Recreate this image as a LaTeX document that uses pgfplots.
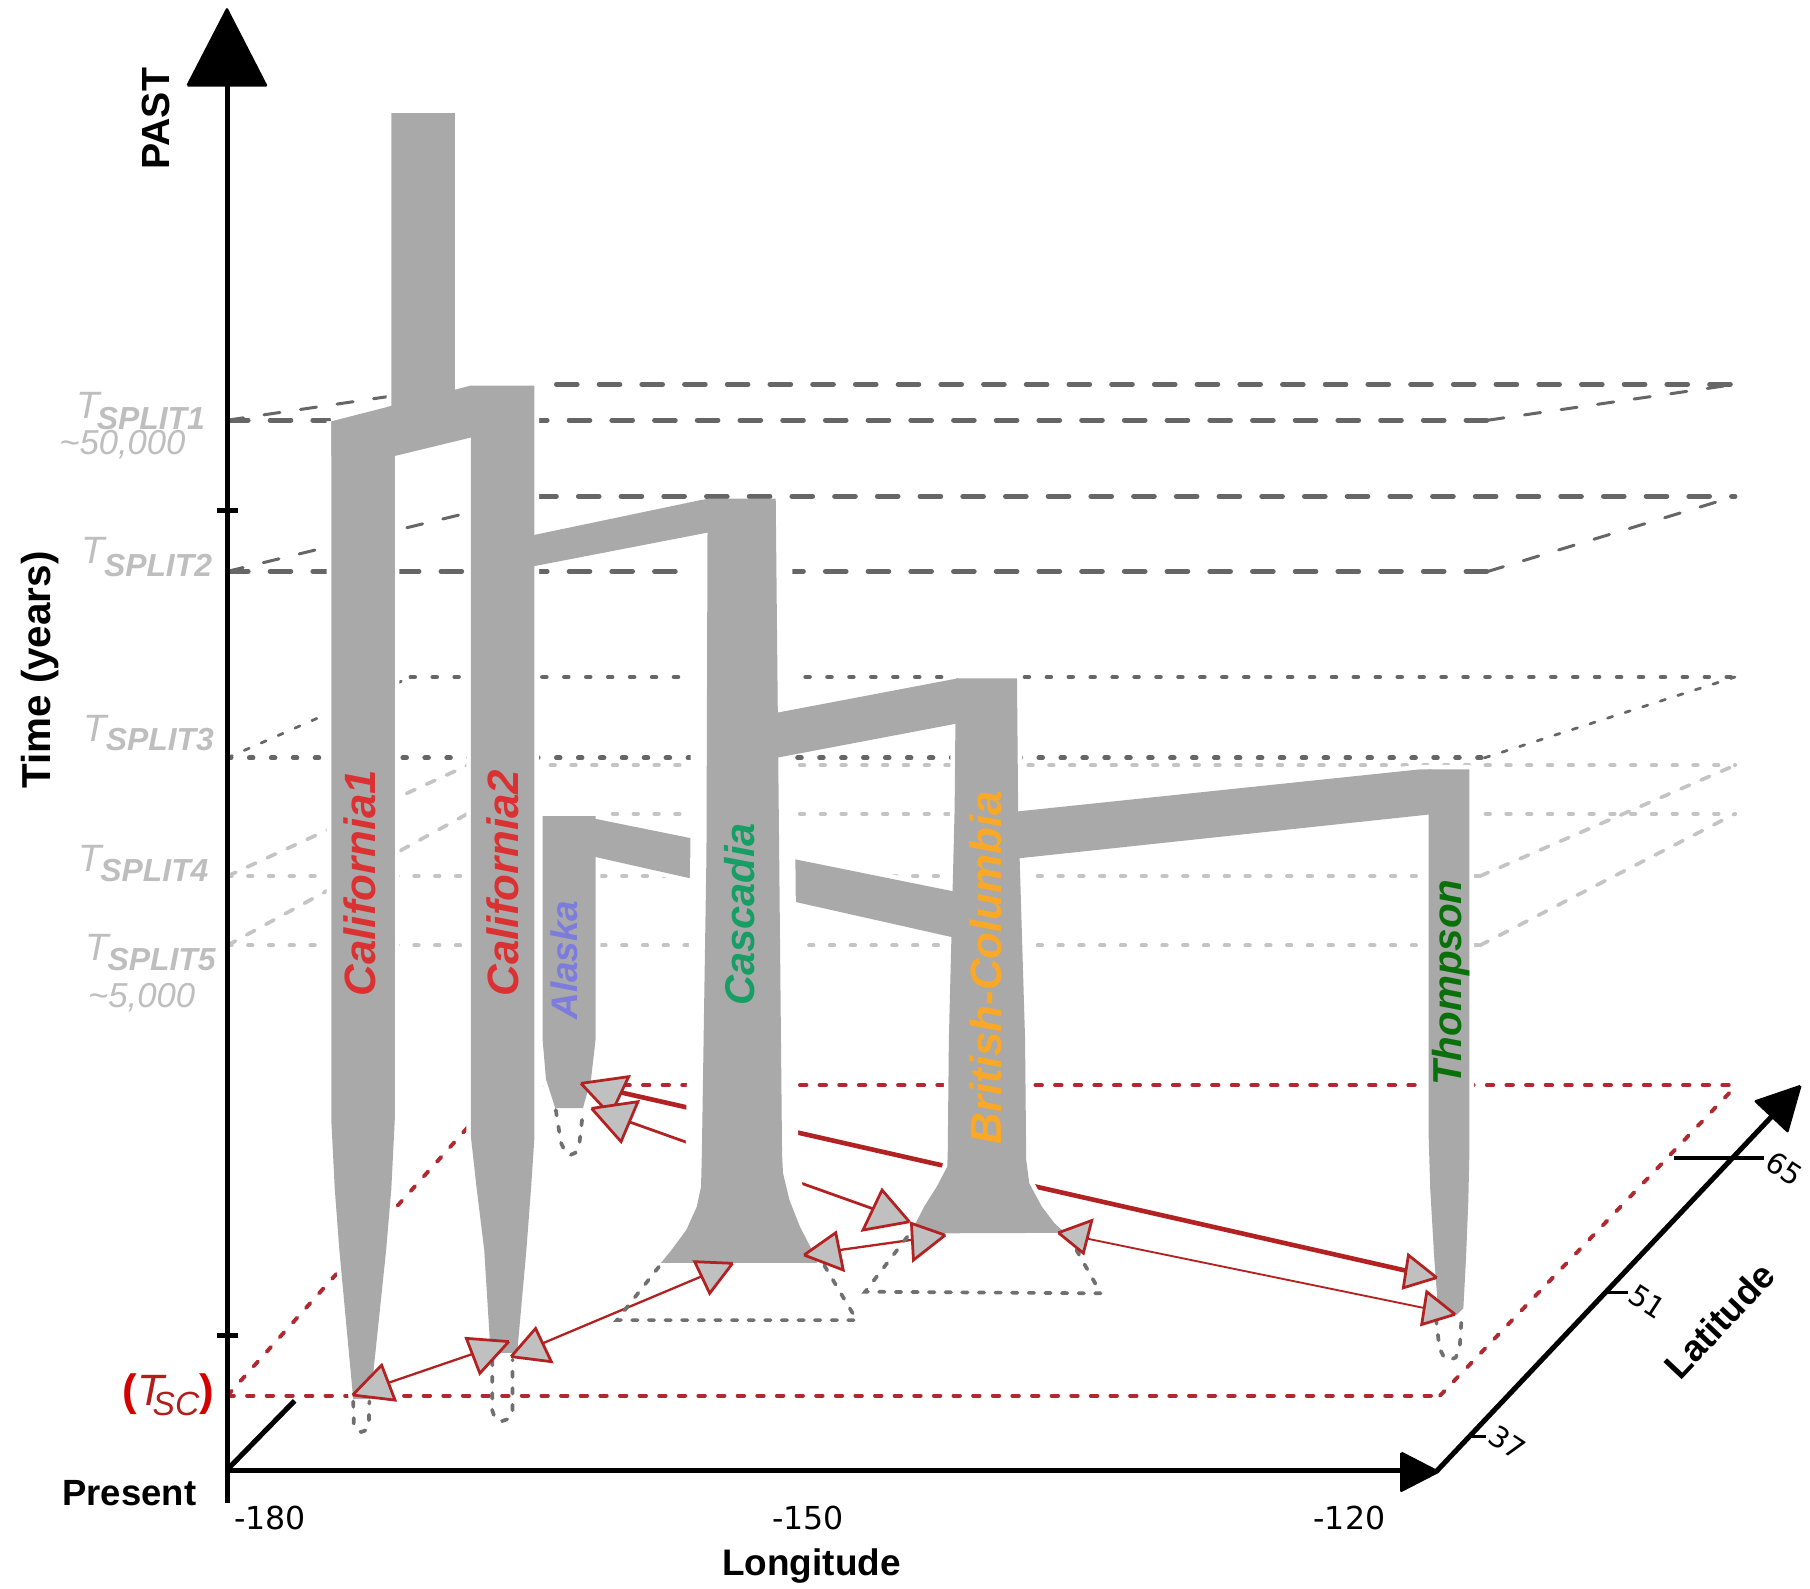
\documentclass[border=0pt]{standalone}
\usepackage{pgfplots}
\pgfplotsset{compat=1.18}
\usepackage{fontspec}
\setmainfont{Liberation Sans}
\newfontfamily\dejavu{DejaVu Sans}

\definecolor{branch}{RGB}{169,169,169}
\definecolor{darkdash}{RGB}{102,102,102}
\definecolor{lightdot}{RGB}{196,196,196}
\definecolor{tsplit}{RGB}{190,190,190}
\definecolor{scred}{RGB}{176,40,48}
\definecolor{migred}{RGB}{178,34,34}
\definecolor{arrfill}{RGB}{192,192,192}
\definecolor{projgray}{RGB}{112,112,112}
\definecolor{calred}{RGB}{218,50,50}
\definecolor{alaskac}{RGB}{124,124,222}
\definecolor{cascadiac}{RGB}{22,158,100}
\definecolor{bcorange}{RGB}{250,168,40}
\definecolor{thompsonc}{RGB}{10,112,10}
\definecolor{parred}{RGB}{212,0,0}
\definecolor{tscdark}{RGB}{178,30,30}

\newcommand{\fs}[1]{\fontsize{#1}{#1}\selectfont}

\tikzset{
  plane dash/.style={draw=darkdash, line width=2.1pt, line cap=round, dash pattern=on 9pt off 9.5pt},
  plane dash diag/.style={draw=darkdash, line width=1.3pt, line cap=round, dash pattern=on 7pt off 9pt},
  plane dot/.style={draw=darkdash, line width=2.1pt, line cap=round, dash pattern=on 1.6pt off 7.9pt},
  plane dot diag/.style={draw=darkdash, line width=1.2pt, line cap=round, dash pattern=on 2.3pt off 5.7pt},
  light dot/.style={draw=lightdot, line width=1.8pt, line cap=round, dash pattern=on 1.8pt off 7.2pt},
  light dot diag/.style={draw=lightdot, line width=1.6pt, line cap=round, dash pattern=on 4pt off 5.5pt},
  sc dot/.style={draw=scred, line width=1.7pt, line cap=round, dash pattern=on 2.8pt off 5.7pt},
  proj/.style={draw=projgray, line width=1.6pt, line cap=round, dash pattern=on 2.4pt off 4.8pt},
  halo/.style={draw=white, fill=white, line width=4pt, line join=round},
  bighalo/.style={draw=white, fill=white, line width=14pt, line join=round},
  body/.style={fill=branch, draw=none},
  tri/.style={fill=arrfill, draw=migred, line width=1.2pt, line join=miter},
  axisline/.style={draw=black, line width=2.3pt},
}

\begin{document}
\begin{tikzpicture}
\begin{axis}[
  width=784pt, height=688pt, scale only axis,
  xmin=0, xmax=1568, ymin=0, ymax=1376, y dir=reverse,
  hide axis, clip=false,
]
% frame of the drawing area
\addplot[draw=none] coordinates {(0,0) (1568,1376)};

% ---------- time planes ----------
% T_SPLIT1
\addplot[plane dash] coordinates {(197,364) (1289,364)};
\addplot[plane dash] coordinates {(408,333) (1503,333)};
\addplot[plane dash diag] coordinates {(197,364) (408,333)};
\addplot[plane dash diag] coordinates {(1289,364) (1503,333)};
% T_SPLIT2
\addplot[plane dash] coordinates {(197,495) (1289,495)};
\addplot[plane dash] coordinates {(464,430) (1503,430)};
\addplot[plane dash diag] coordinates {(197,495) (464,430)};
\addplot[plane dash diag] coordinates {(1289,495) (1503,430)};
% T_SPLIT3
\addplot[plane dot] coordinates {(197,656.5) (1286,656.5)};
\addplot[plane dot] coordinates {(356,586.5) (1503,586.5)};
\addplot[plane dot diag] coordinates {(197,656.5) (356,586.5)};
\addplot[plane dot diag] coordinates {(1286,656.5) (1503,586.5)};
% T_SPLIT4
\addplot[light dot] coordinates {(197,759) (1282,759)};
\addplot[light dot] coordinates {(405,663) (1503,663)};
\addplot[light dot diag] coordinates {(197,759) (405,663)};
\addplot[light dot diag] coordinates {(1282,759) (1503,663)};
% T_SPLIT5
\addplot[light dot] coordinates {(197,819) (1282,819)};
\addplot[light dot] coordinates {(405,705) (1503,705)};
\addplot[light dot diag] coordinates {(197,819) (405,705)};
\addplot[light dot diag] coordinates {(1282,819) (1503,705)};
% T_SC
\addplot[sc dot] coordinates {(197,1209) (1247.5,1209)};
\addplot[sc dot] coordinates {(438,940) (1504.6,940)};
\addplot[sc dot] coordinates {(197,1209) (438,940)};
\addplot[sc dot] coordinates {(1247.5,1209) (1504.6,940)};

% ---------- migration lines passing behind lineages ----------
\addplot[draw=migred, line width=2pt] coordinates {(503.3,938.5) (1244.6,1106.8)};
\addplot[draw=migred, line width=1.2pt] coordinates {(512.5,960.2) (787.8,1058.4)};

% ---------- lineages: white outlines ----------
\addplot[halo] coordinates {(339,98) (394,98) (394,345) (339,360) (339,98)};
\addplot[halo] coordinates {(287,365) (408,334) (408,379) (342,395) (287,395) (287,365)};
\addplot[halo] coordinates {(287,365) (342,365) (342,970) (339,1030) (334.5,1083) (321,1212) (306,1212) (294,1083) (290,1030) (287,970) (287,365)};
\addplot[halo] coordinates {(408,334) (463,334) (463,985) (460,1030) (456,1083) (448,1172) (425,1172) (419.5,1083) (413,1030) (408,985) (408,334)};
\addplot[halo] coordinates {(470,707) (516,707) (516,900) (512,935) (505,960) (481,960) (473,935) (470,900) (470,707)};
\addplot[halo] coordinates {(514,709) (830,773) (830,813) (514,742) (514,709)};
\addplot[halo] coordinates {(828,587.6) (881,587.6) (882,700) (888,900) (889,1005) (891.7,1025.2) (902.6,1045.4) (913.6,1059.8) (922.6,1068) (791.3,1068.5) (793.2,1059.8) (800.5,1045.4) (811.5,1028) (820.6,1010.7) (821,1000) (822,900) (827,700) (828,587.6)};
\addplot[halo] coordinates {(879,703.2) (1230,666.5) (1240,666.5) (1240,705.4) (879,743.9) (879,703.2)};
\addplot[halo] coordinates {(1237.5,666.5) (1273,666.5) (1273,995) (1272,1040) (1270,1090) (1267.7,1133.3) (1262,1139) (1252,1139) (1246,1136.8) (1242.5,1090) (1239,1030) (1237.5,980) (1237.5,666.5)};

% ---------- lineages: bodies ----------
\addplot[body] coordinates {(339,98) (394,98) (394,345) (339,360)};
\addplot[body] coordinates {(287,365) (408,334) (408,379) (342,395) (287,395)};
% California1
\addplot[body] coordinates {(287,365) (342,365) (342,970) (339,1030) (334.5,1083) (321,1212) (306,1212) (294,1083) (290,1030) (287,970)};
% California2
\addplot[body] coordinates {(408,334) (463,334) (463,985) (460,1030) (456,1083) (448,1172) (425,1172) (419.5,1083) (413,1030) (408,985)};
% Alaska
\addplot[body] coordinates {(470,707) (516,707) (516,900) (512,935) (505,960) (481,960) (473,935) (470,900)};
\addplot[body] coordinates {(514,709) (830,773) (830,813) (514,742)};
% British-Columbia
\addplot[body] coordinates {(828,587.6) (881,587.6) (882,700) (888,900) (889,1005) (891.7,1025.2) (902.6,1045.4) (913.6,1059.8) (922.6,1068) (791.3,1068.5) (793.2,1059.8) (800.5,1045.4) (811.5,1028) (820.6,1010.7) (821,1000) (822,900) (827,700)};
\addplot[body] coordinates {(879,703.2) (1230,666.5) (1240,666.5) (1240,705.4) (879,743.9)};
% Thompson
\addplot[body] coordinates {(1237.5,666.5) (1273,666.5) (1273,995) (1272,1040) (1270,1090) (1267.7,1133.3) (1262,1139) (1252,1139) (1246,1136.8) (1242.5,1090) (1239,1030) (1237.5,980)};

% Cascadia sits in front: wide white outline, then body and its links
\addplot[bighalo] coordinates {(613,449) (672,449) (675,740) (677.5,1000) (678.3,1016.2) (683.9,1039.6) (693,1062.7) (705.7,1087.2) (708,1094) (572.6,1094) (581.7,1082.9) (594.5,1065.6) (603.6,1045.4) (607.3,1028) (608,1000) (612,740) (613,449)};
\addplot[body] coordinates {(613,432) (672,432) (675,740) (677.5,1000) (678.3,1016.2) (683.9,1039.6) (693,1062.7) (705.7,1087.2) (708,1094) (572.6,1094) (581.7,1082.9) (594.5,1065.6) (603.6,1045.4) (607.3,1028) (608,1000) (612,740)};
\addplot[body] coordinates {(460,464) (608,433) (615,432) (615,461) (460,491)};
\addplot[body] coordinates {(670,618) (830,587.6) (830,626.6) (670,657)};

% ---------- migration lines ----------
\addplot[draw=migred, line width=1pt] coordinates {(305.5,1208.5) (440.8,1162.2)};
\addplot[draw=migred, line width=1pt] coordinates {(442.8,1175.2) (634.6,1094.4)};
\addplot[draw=migred, line width=1pt] coordinates {(696.6,1087.2) (818.8,1070)};
\addplot[draw=migred, line width=0.8pt] coordinates {(916.9,1067.9) (1260.5,1138.6)};

% ---------- projections below the T_SC plane ----------
\addplot[proj] coordinates {(306,1214) (306.5,1233) (309,1239) (313,1240.5) (317,1239) (319.5,1233) (320,1214)};
\addplot[proj] coordinates {(426.5,1178) (426.5,1222) (429,1229) (435,1231) (441,1229) (444,1222) (444,1178)};
\addplot[proj] coordinates {(481.5,961.6) (486,990) (490,998.5) (494.2,1000.6) (498.5,998.5) (502,990) (505.2,961.6)};
\addplot[proj] coordinates {(570.8,1097.4) (534.4,1143.6) (742.2,1143.6) (713,1094.4)};
\addplot[proj] coordinates {(786,1071.4) (749.5,1119) (953.6,1120.4) (924.5,1068.5)};
\addplot[proj] coordinates {(1244,1142) (1247,1168) (1251,1176) (1256,1178) (1261,1176) (1264.5,1168) (1266.3,1139)};

% ---------- arrowheads ----------
\addplot[tri] coordinates {(305.5,1208.5) (330.6,1182.6) (342.2,1212.9) (305.5,1208.5)};
\addplot[tri] coordinates {(440.8,1162.2) (404,1159.4) (415.7,1189.7) (440.8,1162.2)};
\addplot[tri] coordinates {(442.8,1175.2) (464,1150.8) (477.6,1179.6) (442.8,1175.2)};
\addplot[tri] coordinates {(634.6,1094.4) (601.8,1093) (614.8,1120.4) (634.6,1094.4)};
\addplot[tri] coordinates {(696.6,1087.2) (724,1067.9) (730.5,1100.2) (696.6,1087.2)};
\addplot[tri] coordinates {(818.8,1070) (789.6,1059.8) (791.3,1091.6) (818.8,1070)};
\addplot[tri] coordinates {(916.9,1067.9) (945.8,1057.3) (938.5,1085.6) (916.9,1067.9)};
\addplot[tri] coordinates {(1260.5,1138.6) (1236,1119.1) (1231.6,1147.4) (1260.5,1138.6)};
\addplot[tri] coordinates {(1244.6,1106.8) (1220.1,1087.3) (1215.7,1115.6) (1244.6,1106.8)};
\addplot[tri] coordinates {(503.3,938.5) (544.6,932.7) (528.9,966) (503.3,938.5)};
\addplot[tri] coordinates {(512.5,960.2) (552.6,954.4) (538,989) (512.5,960.2)};
\addplot[tri] coordinates {(787.8,1058.4) (764.1,1030.9) (747.6,1065.6) (787.8,1058.4)};

% ---------- axes ----------
\addplot[axisline] coordinates {(197,1302) (197,72)};
\addplot[fill=black, draw=black, line width=1pt, line join=round] coordinates {(162.5,74) (230.5,74) (196.6,8) (162.5,74)};
\addplot[axisline] coordinates {(188,442) (206,442)};
\addplot[axisline] coordinates {(188,1157) (206,1157)};
\addplot[axisline] coordinates {(197,1274) (1216,1274)};
\addplot[fill=black, draw=black, line width=1pt, line join=round] coordinates {(1214,1258.5) (1214,1291.5) (1246,1275) (1214,1258.5)};
\addplot[draw=black, line width=2.2pt] coordinates {(197,1273) (255.2,1213.5)};
\addplot[draw=black, line width=2.2pt] coordinates {(1244.6,1274.4) (1535,967)};
\addplot[fill=black, draw=black, line width=1pt, line join=round] coordinates {(1559.6,940.8) (1548.5,980) (1520.9,954) (1559.6,940.8)};
\addplot[draw=black, line width=1.5pt] coordinates {(1272.7,1244.6) (1287,1244.6)};
\addplot[draw=black, line width=1.5pt] coordinates {(1390.8,1119.5) (1410,1119.5)};
\addplot[draw=black, line width=1.7pt] coordinates {(1450,1003.4) (1528,1003.4)};

% ---------- text ----------
\node[rotate=90, inner sep=0pt, font=\bfseries\fs{17pt}] at (135,103) {PAST};
\node[rotate=90, inner sep=0pt, font=\bfseries\fs{17.5pt}] at (34.8,580.5) {Time (years)};
\node[inner sep=0pt, font=\bfseries\fs{15.8pt}] at (112,1293.8) {Present};
\node[inner sep=0pt, font=\bfseries\fs{16pt}] at (703,1357) {Longitude};
\node[inner sep=0pt, font=\dejavu\fs{13.7pt}] at (234,1315.4) {-180};
\node[inner sep=0pt, font=\dejavu\fs{13.7pt}] at (700,1315.4) {-150};
\node[inner sep=0pt, font=\dejavu\fs{13.7pt}] at (1169,1315.4) {-120};
\node[rotate=46.7, inner sep=0pt, font=\bfseries\fs{15.8pt}] at (1489.4,1144) {Latitude};
\node[rotate=-33, inner sep=0pt, font=\dejavu\fs{12.5pt}] at (1306,1250) {37};
\node[rotate=-33, inner sep=0pt, font=\dejavu\fs{12.5pt}] at (1427,1128) {51};
\node[rotate=-33, inner sep=0pt, font=\dejavu\fs{12.5pt}] at (1546,1012) {65};

% split-time labels
\node[anchor=base west, inner sep=0pt, text=tsplit, font=\itshape\fs{16.5pt}] at (66,362.6) {T};
\node[anchor=base west, inner sep=0pt, text=tsplit, font=\bfseries\itshape\fs{13.8pt}] at (83.5,372.5) {SPLIT1};
\node[anchor=base west, inner sep=0pt, text=tsplit, font=\itshape\fs{15pt}] at (51,394) {\textasciitilde 50,000};
\node[anchor=base west, inner sep=0pt, text=tsplit, font=\itshape\fs{16.5pt}] at (70.5,488.4) {T};
\node[anchor=base west, inner sep=0pt, text=tsplit, font=\bfseries\itshape\fs{13.8pt}] at (89.7,499.5) {SPLIT2};
\node[anchor=base west, inner sep=0pt, text=tsplit, font=\itshape\fs{16.5pt}] at (72.2,642.5) {T};
\node[anchor=base west, inner sep=0pt, text=tsplit, font=\bfseries\itshape\fs{13.8pt}] at (91.3,650.5) {SPLIT3};
\node[anchor=base west, inner sep=0pt, text=tsplit, font=\itshape\fs{16.5pt}] at (67.5,755.2) {T};
\node[anchor=base west, inner sep=0pt, text=tsplit, font=\bfseries\itshape\fs{13.8pt}] at (86.6,764) {SPLIT4};
\node[anchor=base west, inner sep=0pt, text=tsplit, font=\itshape\fs{16.5pt}] at (73.8,832.2) {T};
\node[anchor=base west, inner sep=0pt, text=tsplit, font=\bfseries\itshape\fs{13.8pt}] at (92.8,840.5) {SPLIT5};
\node[anchor=base west, inner sep=0pt, text=tsplit, font=\itshape\fs{15pt}] at (76,873) {\textasciitilde 5,000};

% secondary contact label
\node[anchor=base west, inner sep=0pt] at (106,1217.5)
  {{\color{parred}\bfseries\fs{19pt}(}{\color{tscdark}\itshape\fs{19pt}T\kern-5pt\raisebox{-4.5pt}{\fs{14.5pt}SC}}{\color{parred}\bfseries\fs{19pt})}};

% lineage names
\node[rotate=90, text=calred, font=\bfseries\itshape\fs{19pt}] at (312,765) {California1};
\node[rotate=90, text=calred, font=\bfseries\itshape\fs{19pt}] at (435.6,765) {California2};
\node[rotate=90, text=alaskac, font=\bfseries\itshape\fs{16pt}] at (488.6,831.7) {Alaska};
\node[rotate=90, text=cascadiac, font=\bfseries\itshape\fs{18pt}] at (641,792) {Cascadia};
\node[rotate=90, text=bcorange, font=\bfseries\itshape\fs{19pt}] at (854.3,838.2) {British-Columbia};
\node[rotate=90, text=thompsonc, font=\bfseries\itshape\fs{17.5pt}] at (1256.7,851.3) {Thompson};
\end{axis}
% the page is exactly the drawing area
\pgfresetboundingbox
\path (current axis.south west) rectangle (current axis.north east);
\end{tikzpicture}
\end{document}
